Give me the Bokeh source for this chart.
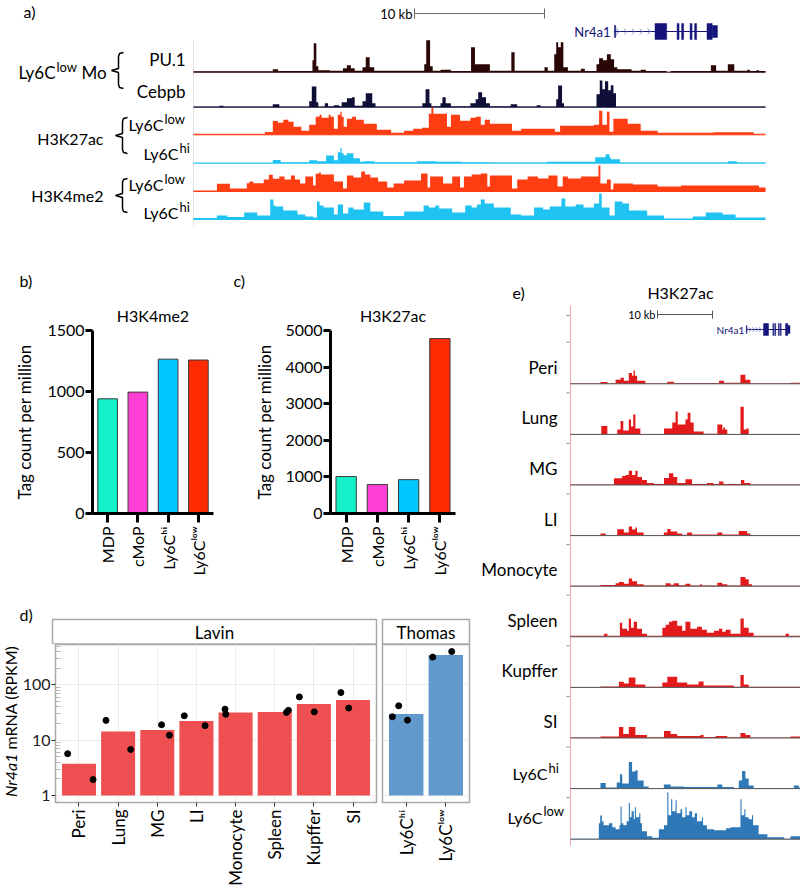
import math
from bokeh.plotting import figure
from bokeh.layouts import row, column
from bokeh.models import Range1d, FactorRange, FixedTicker, NumeralTickFormatter, ColumnDataSource
from bokeh.core.properties import value
from bokeh.embed import file_html
from bokeh.resources import INLINE

FONT = "Lato"

# ---------------- data : panels b, c ----------------
bc_cells = ["MDP", "cMoP", "Ly6Cʰⁱ", "Ly6Cˡᵒʷ"]
bc_colors = ["#14F0C8", "#FF3FD4", "#00C6FF", "#FF2A00"]
h3k4me2_tags = [940, 995, 1265, 1258]
h3k27ac_tags = [1010, 790, 925, 4780]

# ---------------- data : panel d ----------------
lavin_cells = ["Peri", "Lung", "MG", "LI", "Monocyte", "Spleen", "Kupffer", "SI"]
lavin_rpkm = [3.76, 14.4, 15.3, 22.2, 31.8, 32.3, 45.3, 53.5]
lavin_rep_cell = [0, 0, 1, 1, 2, 2, 3, 3, 4, 4, 5, 5, 6, 6, 7, 7]
lavin_rep_rpkm = [5.7, 1.94, 22.8, 6.8, 19.0, 12.3, 27.6, 18.3, 36.4, 29.4, 31.8, 34.6, 60.6, 32.5, 72.6, 38.0]
lavin_rep_jitter = [-0.29, 0.36, -0.31, 0.32, 0.11, 0.31, -0.31, 0.22, -0.27, -0.25, 0.30, 0.35, -0.37, 0.01, -0.31, -0.11]
thomas_cells = ["Ly6Cʰⁱ", "Ly6Cˡᵒʷ"]
thomas_rpkm = [29.6, 345]
thomas_rep_cell = [0, 0, 0, 1, 1]
thomas_rep_rpkm = [26.5, 41.8, 23.0, 317, 400]
thomas_rep_jitter = [-0.35, -0.19, 0.03, -0.33, 0.15]
facets = ["Lavin", "Thomas"]

# ---------------- data : panel a tracks (start kb, signal) ----------------
a_pu1 = [(0, 1.0), (6.1, 3), (6.5, 1.2), (9.15, 12), (9.25, 29), (9.45, 6), (9.6, 2), (10.5, 1.5), (11.5, 4), (11.8, 7),
         (12.1, 4), (12.4, 1.5), (13.0, 5), (13.25, 15), (13.55, 5), (13.9, 1.5), (17.75, 8), (17.9, 32), (18.2, 6),
         (18.4, 1.5), (19.0, 2.5), (19.8, 1.2), (21.35, 25), (21.65, 8), (22.8, 1.5), (24.45, 20), (24.7, 1.5), (27.0, 5),
         (27.25, 1.5), (27.75, 18), (27.9, 30), (28.05, 25), (28.25, 30), (28.45, 5), (28.8, 1.5), (29.8, 3.5), (30.1, 1.2),
         (31.0, 8), (31.2, 14), (31.5, 12), (31.8, 18), (32.1, 13), (32.35, 5), (32.6, 3), (33.7, 1.5), (34.4, 2.5),
         (34.8, 1.2), (36.4, 0), (36.7, 1.2), (39.8, 7), (40.2, 1.5), (41.1, 8), (41.6, 1.5), (42.6, 2.5), (42.8, 1.2),
         (43.3, 2), (43.5, 1.2)]
a_cebpb = [(0, 0.8), (2.0, 1.5), (2.3, 0.8), (6.1, 3), (6.6, 0.8), (8.9, 6), (9.1, 20.7), (9.45, 5), (9.6, 0.8), (10.1, 4),
           (10.35, 1), (10.8, 2), (11.2, 1), (11.4, 5), (11.8, 9), (12.2, 10), (12.4, 1.5), (13.0, 6), (13.25, 14),
           (13.75, 4), (14.0, 0.8), (17.6, 4), (17.85, 18), (18.15, 4), (18.3, 1), (19.0, 4), (19.15, 10), (19.4, 4),
           (19.8, 1), (21.3, 4), (21.7, 8), (21.9, 15), (22.2, 10), (22.5, 4), (22.8, 1), (24.4, 3), (24.9, 0.8), (26.4, 2),
           (26.7, 0.8), (27.9, 8), (28.05, 21.7), (28.35, 4), (28.5, 0.8), (31.0, 13), (31.25, 26.7), (31.45, 18),
           (31.65, 26), (31.9, 17), (32.1, 22), (32.3, 14), (32.5, 0.8)]
a_k27_low = [(0, 1), (5.5, 2.7), (6.1, 13.7), (6.5, 12), (6.9, 15), (7.3, 13), (7.7, 8), (8.3, 4), (8.9, 10), (9.4, 18),
             (9.7, 20), (9.85, 17), (10.4, 20), (10.55, 18), (10.8, 6), (11.1, 20), (11.3, 23), (11.4, 18), (11.55, 8),
             (11.8, 16), (12.2, 18), (12.5, 15), (13.1, 11), (14.1, 5), (15.2, 2), (16.2, 4), (16.9, 6), (17.6, 7),
             (18.1, 21), (18.3, 27), (18.45, 21), (19.5, 8), (19.8, 20), (20.5, 14), (21.3, 17), (21.7, 18), (22.1, 10),
             (22.4, 15), (22.8, 11), (24.5, 4), (25.2, 6), (27.8, 3), (28.2, 9), (30.8, 10), (31.2, 24), (31.45, 10),
             (31.8, 23), (32.0, 3), (32.3, 16), (33.4, 11), (34.4, 4), (35.7, 2), (40.0, 2.5), (43.1, 1)]
a_k27_hi = [(0, 0.5), (6.1, 3.3), (6.7, 1), (8.9, 3), (9.5, 2), (10.2, 7.7), (10.8, 3), (11.1, 11), (11.3, 15), (11.4, 10),
            (11.55, 8), (11.8, 10), (12.3, 5), (12.8, 1.5), (13.1, 2), (13.9, 1), (17.2, 2), (18.7, 1.5), (20.6, 1),
            (22.8, 0.8), (27.2, 1.5), (30.9, 6), (31.7, 9), (32.0, 6), (32.1, 4), (32.8, 0.6), (41.1, 2), (41.8, 0.6)]
a_k4_low = [(0, 1), (1.8, 7.7), (2.8, 3), (4.1, 8.3), (4.3, 10), (4.6, 8.3), (5.4, 12), (5.8, 16.7), (6.1, 12.7), (6.6, 15),
            (7.0, 12), (7.5, 16), (7.8, 12), (8.2, 8), (8.6, 15), (9.2, 6), (9.4, 17.7), (9.65, 19), (9.8, 17), (10.8, 10),
            (11.5, 3), (11.8, 16), (12.3, 14), (12.9, 20), (13.2, 17), (13.6, 14), (14.2, 10), (14.9, 4), (15.4, 8),
            (16.2, 11), (17.5, 18), (18.0, 4), (18.2, 15), (19.2, 8), (19.9, 15), (20.5, 4), (20.8, 15), (21.4, 17),
            (22.1, 18), (22.6, 5), (22.8, 16), (24.5, 3), (24.9, 12), (25.7, 15), (26.5, 13), (27.3, 16), (28.0, 5),
            (28.4, 15), (28.8, 13), (29.8, 15), (30.8, 15), (31.15, 26), (31.3, 8), (31.8, 12), (32.1, 2), (32.3, 8),
            (33.8, 7), (35.7, 5), (37.5, 6), (43.5, 4)]
a_k4_hi = [(0, 1.5), (1.8, 4), (2.6, 2.5), (3.9, 7), (4.9, 4), (5.9, 20), (6.15, 14), (6.3, 13), (6.9, 9), (8.0, 5), (8.6, 3),
           (9.2, 2), (9.5, 18), (9.7, 14), (10.0, 12), (10.8, 5), (11.1, 15), (11.5, 6), (11.9, 12), (12.3, 10), (13.1, 17),
           (13.6, 8), (14.6, 3.5), (16.2, 8), (17.7, 14), (18.1, 12), (18.6, 14), (18.9, 11), (19.9, 7), (20.9, 14),
           (21.4, 12), (21.8, 15), (22.1, 20), (22.4, 16), (23.1, 12), (24.4, 5), (25.2, 4), (26.2, 12), (26.9, 10),
           (27.4, 13), (28.3, 21), (28.6, 13), (29.4, 15), (30.0, 12), (30.8, 16), (31.2, 26), (31.4, 12), (32.0, 4),
           (32.4, 18), (33.0, 16), (33.5, 9), (34.9, 4), (36.2, 1), (38.4, 3), (39.4, 7), (40.7, 5), (41.7, 2)]

# gene model (kb, panel a coordinates)
nr4a1_exon_start = [32.38, 35.5, 37.2, 37.55, 38.2, 38.55, 39.5, 39.9]
nr4a1_exon_end = [32.48, 36.4, 37.35, 37.7, 38.35, 38.7, 39.9, 40.3]
nr4a1_exon_kind = ["utr", "cds", "cds", "cds", "cds", "cds", "cds", "utr"]
nr4a1_start, nr4a1_end = 32.38, 40.3

# ---------------- data : panel e tracks (start kb, signal) ----------------
e_cells = ["Peri", "Lung", "MG", "LI", "Monocyte", "Spleen", "Kupffer", "SI", "Ly6C|hi", "Ly6C|low"]
e_peri = [(0, 0.5), (5.45, 1.7), (6.7, 0.5), (8.2, 4), (9.1, 6), (9.7, 3), (10.6, 10.7), (11.2, 8), (11.45, 13.3), (11.7, 8),
          (12.1, 3), (13.6, 0.5), (17.6, 2), (18.8, 0.7), (27.0, 3), (27.9, 1), (30.9, 9), (31.8, 4), (32.7, 0.5), (40.0, 1)]
e_lung = [(0, 0.5), (5.6, 8.3), (6.7, 0.5), (8.5, 5), (9.1, 13.3), (9.6, 4), (10.6, 15), (11.0, 8), (11.4, 20), (11.8, 6),
          (12.7, 0.5), (17.0, 6), (18.5, 12), (19.1, 23), (19.5, 10), (20.9, 15), (21.3, 21.7), (21.8, 12), (22.4, 3),
          (24.2, 0.7), (26.7, 10), (27.6, 5), (27.8, 7), (28.1, 5), (28.5, 0.5), (30.9, 27.7), (31.5, 5), (32.0, 6), (32.4, 0.5)]
e_mg = [(0, 0.5), (7.9, 6.7), (9.4, 9), (10.0, 10), (10.6, 14.3), (11.2, 10), (11.8, 14.3), (12.2, 8), (13.0, 5), (13.9, 2),
        (15.15, 1), (17.0, 7), (17.9, 11.7), (18.7, 8), (19.4, 2), (20.9, 5.7), (22.1, 1), (24.8, 2), (26.0, 1), (27.0, 3.5),
        (27.8, 1), (31.0, 5), (31.6, 2), (32.7, 0.6)]
e_li = [(0, 0.5), (5.45, 2), (6.4, 0.5), (8.5, 6.3), (9.7, 3), (10.6, 9), (11.2, 6), (11.8, 8), (12.1, 3), (13.3, 0.7),
        (16.97, 3), (17.6, 6.7), (18.2, 4), (19.4, 2), (20.3, 0.8), (21.2, 3), (22.1, 1), (26.7, 3), (27.6, 1), (30.6, 4.7),
        (32.1, 2), (32.7, 0.7)]
e_mono = [(0, 0.5), (5.45, 1.2), (8.2, 3), (8.8, 4.3), (9.7, 2.5), (10.6, 7.7), (11.2, 5), (12.1, 2), (13.3, 0.7), (17.3, 3),
          (18.2, 1.5), (18.8, 3), (19.7, 1), (20.9, 2.5), (21.8, 0.7), (23.6, 2), (23.9, 0.7), (26.7, 3.5), (27.6, 2),
          (28.5, 0.6), (30.9, 9.3), (31.8, 7), (32.4, 2), (33.0, 0.5)]
e_spleen = [(0, 1), (6.1, 3), (6.7, 1), (8.97, 14), (9.4, 8), (10.3, 6), (10.6, 18.3), (11.0, 9), (11.5, 15), (12.1, 8),
            (13.0, 3), (13.9, 1), (16.7, 9), (17.3, 12), (17.9, 15), (18.5, 16), (19.4, 11), (20.3, 6), (20.9, 15), (21.8, 8),
            (23.0, 10), (23.9, 7), (24.8, 4), (26.1, 6), (27.0, 8), (27.6, 5), (28.2, 7), (29.1, 3), (30.9, 18.3), (31.5, 9),
            (32.4, 4), (33.3, 1), (39.1, 3), (39.7, 1)]
e_kupffer = [(0, 0.5), (5.45, 1), (8.8, 5.7), (9.7, 4), (10.6, 10), (11.8, 3), (13.6, 0.7), (16.7, 5), (17.6, 10.7), (19.4, 5),
             (21.2, 3), (23.3, 6), (24.2, 2), (29.7, 0.7), (30.9, 12.3), (31.5, 3), (32.4, 0.7)]
e_si = [(0, 0.5), (5.45, 1.5), (8.8, 11), (9.6, 4), (10.6, 11), (11.8, 3), (13.9, 0.8), (17.0, 7), (18.2, 4), (19.4, 2),
        (23.6, 3), (24.2, 1), (26.4, 2), (28.5, 0.7), (30.9, 5), (31.8, 3), (32.7, 0.5), (40.0, 1.5)]
e_ly6chi = [(0, 0.5), (5.45, 5.7), (6.4, 1), (8.4, 6), (9.0, 14.3), (9.4, 5), (10.6, 26.7), (11.2, 17), (11.8, 18.3), (12.2, 8),
            (13.3, 2), (14.2, 0.7), (16.97, 4), (18.2, 2), (20.6, 1.5), (26.7, 4), (27.6, 1.5), (29.7, 0.7), (30.6, 8),
            (31.2, 17.7), (31.8, 10), (32.4, 3), (33.3, 0.6), (40.6, 3), (41.5, 1)]
e_ly6clow = [(0, 0.5), (5.15, 16), (5.4, 23.7), (5.7, 18), (6.0, 14), (7.0, 16), (7.6, 12), (8.2, 10), (8.9, 14), (9.1, 32.7),
             (9.3, 16), (9.6, 14), (10.2, 18), (10.6, 36.3), (10.8, 22), (11.1, 28), (11.5, 20), (11.7, 32), (11.9, 22),
             (12.5, 26), (12.7, 16), (13.0, 8), (13.9, 3), (14.85, 1.5), (16.06, 10), (17.0, 14), (17.6, 47), (17.8, 24),
             (18.3, 40), (18.5, 28), (19.1, 39), (19.3, 26), (20.0, 30), (20.3, 22), (20.9, 32), (21.1, 24), (21.6, 28),
             (22.1, 22), (22.6, 26), (23.0, 18), (23.9, 22), (24.1, 14), (24.8, 10), (26.1, 9), (28.3, 11), (29.1, 12),
             (30.9, 40), (31.1, 24), (31.6, 30), (31.8, 22), (32.4, 20), (33.0, 24), (33.2, 14), (34.2, 5), (35.8, 2),
             (38.8, 0.5), (40.0, 3)]

# ---------------- helpers ----------------
def base_fig(width, height, xr, yr):
    p = figure(width=width, height=height, x_range=xr, y_range=yr, output_backend="svg",
               toolbar_location=None, x_axis_location=None, y_axis_location=None, min_border=0)
    p.outline_line_color = None
    p.grid.visible = False
    p.background_fill_color = "white"
    return p


def txt(p, x, y, s, size="16px", align="left", color="black", style="normal", angle=0.0, baseline="middle"):
    p.text(x=[x], y=[y], text=[s], text_font=value(FONT), text_font_size=size, text_align=align,
           text_baseline=baseline, text_color=color, text_font_style=style, angle=angle)


def sup_label(p, xj, y, base, sup, conv, size="16px", ssize="12px", dy=6):
    txt(p, conv(xj), y, base, size=size, align="right")
    txt(p, conv(xj + 1), y - dy, sup, size=ssize, align="left")


def steps(track, end):
    xs = [s for s, _ in track] + [end]
    hs = [v for _, v in track] + [track[-1][1]]
    return xs, hs


def draw_gene(p, kb_shift, y, half_cds, half_utr, text_gap_kb, text_size, chev_w, chev_h, color):
    s = nr4a1_start + kb_shift
    e = nr4a1_end + kb_shift
    p.line([s, e], [y, y], line_color=color, line_width=1)
    ch = [s + 0.35 + 0.6 * k for k in range(5)]
    xs = [[c - chev_w, c, c - chev_w] for c in ch]
    ys = [[y - chev_h, y, y + chev_h] for c in ch]
    p.multi_line(xs, ys, line_color="#8C8CD0", line_width=1)
    left = [v + kb_shift for v in nr4a1_exon_start]
    right = [v + kb_shift for v in nr4a1_exon_end]
    half = [half_cds if k == "cds" else half_utr for k in nr4a1_exon_kind]
    p.quad(left=left, right=right, top=[y - h for h in half], bottom=[y + h for h in half],
           fill_color=color, line_color=color, line_width=0.5)
    txt(p, s - text_gap_kb, y, "Nr4a1", size=text_size, align="right", color=color)


# =============== panel a ===============
A_X0, A_PXKB = 193.0, 13.0


def akb(px):
    return (px - A_X0) / A_PXKB


A_END = akb(765)
pa = base_fig(800, 238, Range1d(akb(0), akb(800)), Range1d(238, 0))

a_tracks = [(a_pu1, 71.7, "#2A0606"), (a_cebpb, 106.7, "#0E0E36"), (a_k27_low, 134.3, "#FF3D12"),
            (a_k27_hi, 162.7, "#1EC3F2"), (a_k4_low, 191.0, "#FF3D12"), (a_k4_hi, 219.0, "#1EC3F2")]
pa.line([0, 0], [40, 226], line_color="#E4E4E4", line_width=1)
for trk, base, col in a_tracks:
    xs, hs = steps(trk, A_END)
    pa.varea_step(x=xs, y1=[base] * len(xs), y2=[base - h for h in hs], step_mode="after", fill_color=col)
    pa.line([0, A_END], [base, base], line_color=col, line_width=1)

sb0 = akb(414)
pa.line([sb0, sb0 + 10], [13, 13], line_color="#666666", line_width=1)
pa.multi_line([[sb0, sb0], [sb0 + 10, sb0 + 10]], [[8, 18], [8, 18]], line_color="#666666", line_width=1)
txt(pa, akb(412), 13, "10 kb", size="13px", align="right")

draw_gene(pa, 0.0, 31, 8, 6, 4 / A_PXKB, "13px", 0.2, 3, "#14147A")

txt(pa, akb(23), 11, "a)", size="16px")
sup_label(pa, 55, 72, "Ly6C", "low", akb, size="17px", ssize="13px")
txt(pa, akb(81), 72, "Mo", size="17px")
txt(pa, akb(185), 59, "PU.1", align="right", size="17px")
txt(pa, akb(185), 91, "Cebpb", align="right", size="17px")
txt(pa, akb(103), 138, "H3K27ac", align="right")
sup_label(pa, 163, 124, "Ly6C", "low", akb, ssize="13px")
sup_label(pa, 178, 153, "Ly6C", "hi", akb, ssize="13px")
txt(pa, akb(103), 195, "H3K4me2", align="right")
sup_label(pa, 163, 184, "Ly6C", "low", akb, ssize="13px")
sup_label(pa, 178, 212, "Ly6C", "hi", akb, ssize="13px")


def brace(p, x, top, bot, mid, tip):
    px = [x + 5, x + 1, x, x, tip, x, x, x + 1, x + 5]
    py = [top, top + 1, top + 4, mid - 2, mid, mid + 2, bot - 4, bot - 1, bot]
    p.line([akb(v) for v in px], py, line_color="black", line_width=1.5)


brace(pa, 118, 52, 88, 70, 111)
brace(pa, 122, 117, 153, 135, 115)
brace(pa, 122, 178, 212, 195, 115)

# =============== header for b, c ===============
LEFT_W = 480
bc_head = base_fig(LEFT_W, 52, Range1d(0, LEFT_W), Range1d(290, 238))
txt(bc_head, 19, 280, "b)")
txt(bc_head, 233, 280, "c)")


# =============== panels b, c ===============
def bar_panel(title, vals, ymax, ticks, width, left, right, label_standoff):
    p = figure(width=width, height=310, x_range=FactorRange(*bc_cells, range_padding=0),
               y_range=Range1d(0, ymax), title=title, min_border_left=left, min_border_right=right,
               min_border_top=40, min_border_bottom=87, output_backend="svg", toolbar_location=None)
    p.outline_line_color = None
    p.grid.visible = False
    src = ColumnDataSource(dict(cell=bc_cells, val=vals, color=bc_colors))
    p.vbar(x="cell", top="val", width=0.65, fill_color="color", line_color="#3A3A3A", line_width=1, source=src)
    p.title.align = "center"
    p.title.text_font = FONT
    p.title.text_font_size = "16px"
    p.title.text_font_style = "normal"
    p.title.text_color = "black"
    p.title.standoff = 11
    for ax in (p.xaxis[0], p.yaxis[0]):
        ax.axis_line_width = 3
        ax.axis_line_color = "black"
        ax.major_tick_line_width = 3
        ax.major_tick_line_color = "black"
        ax.major_tick_in = 0
        ax.minor_tick_line_color = None
        ax.major_label_text_font = FONT
        ax.major_label_text_font_size = "16px"
        ax.major_label_text_color = "black"
    p.xaxis.major_tick_out = 9
    p.xaxis.major_label_orientation = math.pi / 2
    p.xaxis.major_label_standoff = 4
    p.yaxis.major_tick_out = 7
    p.yaxis.major_label_standoff = 1
    p.yaxis.ticker = FixedTicker(ticks=ticks)
    p.yaxis.axis_label = "Tag count per million"
    p.yaxis.axis_label_text_font = FONT
    p.yaxis.axis_label_text_font_size = "17px"
    p.yaxis.axis_label_text_font_style = "normal"
    p.yaxis.axis_label_text_color = "black"
    p.yaxis.axis_label_standoff = label_standoff
    return p


pb = bar_panel("H3K4me2", h3k4me2_tags, 1500, [0, 500, 1000, 1500], 230, 92, 17, 9)
pc = bar_panel("H3K27ac", h3k27ac_tags, 5000, [0, 1000, 2000, 3000, 4000, 5000], LEFT_W - 230, 100,
               LEFT_W - 455, 7)

# =============== header for d (strips) ===============
DL_W = 19
d_head = base_fig(LEFT_W - DL_W, 44, Range1d(DL_W, LEFT_W), Range1d(644, 600))
strip_left = [52, 382]
strip_right = [376, 469]
d_head.quad(left=strip_left, right=strip_right, top=[619, 619], bottom=[643.5, 643.5],
            fill_color="white", line_color="#A8A8A8", line_width=1.5)
for f, l, r in zip(facets, strip_left, strip_right):
    txt(d_head, (l + r) / 2, 631.5, f, size="17px", align="center")
txt(d_head, DL_W, 614, "d)")

# rotated y label for d (italic gene name)
dlab = base_fig(DL_W, 288, Range1d(0, DL_W), Range1d(888, 600))
txt(dlab, 10, 753, "Nr4a1", size="16px", align="right", style="italic", angle=math.pi / 2)
txt(dlab, 10, 749, "mRNA (RPKM)", size="16px", align="left", angle=math.pi / 2)


def facet_panel(width, left, right, cells, vals, rep_cell, rep_val, rep_jit, color, show_axis):
    n = len(cells)
    pos = list(range(1, n + 1))
    p = figure(width=width, height=244, x_range=Range1d(0.4, n + 0.6), y_range=Range1d(0.748, 536),
               y_axis_type="log", y_axis_location=("left" if show_axis else None),
               min_border_left=left, min_border_right=right, min_border_top=0,
               min_border_bottom=85, output_backend="svg", toolbar_location=None)
    p.outline_line_color = "#A8A8A8"
    p.outline_line_width = 1.5
    xt = FixedTicker(ticks=pos)
    yt = FixedTicker(ticks=[1, 10, 100])
    p.xaxis.ticker = xt
    p.xgrid.ticker = xt
    p.ygrid.ticker = yt
    p.grid.grid_line_color = "#EBEBEB"
    p.grid.grid_line_width = 1
    p.vbar(x=pos, top=vals, bottom=1, width=0.87, fill_color=color, line_color=None)
    px = [pos[c] + j for c, j in zip(rep_cell, rep_jit)]
    p.scatter(x=px, y=rep_val, size=6, fill_color="black", line_color="black")
    xa = p.xaxis[0]
    xa.major_label_overrides = {t: c for t, c in zip(pos, cells)}
    xa.major_label_orientation = math.pi / 2
    xa.major_label_text_font = FONT
    xa.major_label_text_font_size = "17px"
    xa.major_label_text_color = "black"
    xa.major_label_standoff = 3
    xa.major_tick_out = 4
    xa.major_tick_in = 0
    xa.major_tick_line_color = "#333333"
    xa.axis_line_color = None
    xa.minor_tick_line_color = None
    if show_axis:
        ya = p.yaxis[0]
        ya.ticker = FixedTicker(ticks=[1, 10, 100],
                                minor_ticks=[2, 3, 4, 5, 6, 7, 8, 9, 20, 30, 40, 50, 60, 70, 80, 90,
                                             200, 300, 400, 500])
        ya.axis_line_color = None
        ya.minor_tick_in = 5
        ya.minor_tick_out = 0
        ya.minor_tick_line_color = "#B8B8B8"
        ya.formatter = NumeralTickFormatter(format="0")
        ya.major_label_text_font = FONT
        ya.major_label_text_font_size = "16px"
        ya.major_label_text_color = "#222222"
        ya.major_label_standoff = 1
        ya.major_tick_out = 4
        ya.major_tick_in = 0
        ya.major_tick_line_color = "#333333"
    return p


pd1 = facet_panel(379 - DL_W, 52 - DL_W, 3, lavin_cells, lavin_rpkm, lavin_rep_cell, lavin_rep_rpkm,
                  lavin_rep_jitter, "#EE5052", True)
pd2 = facet_panel(LEFT_W - 379, 3, LEFT_W - 469, thomas_cells, thomas_rpkm, thomas_rep_cell, thomas_rep_rpkm,
                  thomas_rep_jitter, "#6199CC", False)

# =============== panel e ===============
E_X0, E_PXKB = 570.0, 5.5


def ekb(px):
    return (px - E_X0) / E_PXKB


E_END = ekb(800)
pe = base_fig(800 - LEFT_W, 650, Range1d(ekb(LEFT_W), ekb(800)), Range1d(888, 238))
e_tracks = [e_peri, e_lung, e_mg, e_li, e_mono, e_spleen, e_kupffer, e_si, e_ly6chi, e_ly6clow]
e_colors = ["#E31A1C"] * 8 + ["#2E78B8", "#2E78B8"]
pe.line([0, 0], [305, 845], line_color="#F2A6A6", line_width=1)
for i, (trk, col, name) in enumerate(zip(e_tracks, e_colors, e_cells)):
    base = 383.3 + 50.6 * i
    xs, hs = steps(trk, E_END)
    pe.varea_step(x=xs, y1=[base] * len(xs), y2=[base - h for h in hs], step_mode="after", fill_color=col)
    pe.line([0, E_END], [base, base], line_color="#555555", line_width=1)
    pe.line([ekb(566), ekb(569)], [base - 41.6, base - 41.6], line_color="#888888", line_width=1)
    if "|" in name:
        b, s = name.split("|")
        if s == "hi":
            sup_label(pe, 547, base - 15, b, s, ekb, ssize="13px")
        else:
            sup_label(pe, 542, base - 22, b, s, ekb, ssize="13px")
    else:
        txt(pe, ekb(557), base - 16.5, name, align="right", size="17px")
pe.line([ekb(566), ekb(569)], [315, 315], line_color="#888888", line_width=1)

txt(pe, ekb(512), 292, "e)")
txt(pe, ekb(680), 292, "H3K27ac", align="center")
sbe = ekb(657)
pe.line([sbe, sbe + 10], [314, 314], line_color="#555555", line_width=1)
pe.multi_line([[sbe, sbe], [sbe + 10, sbe + 10]], [[310, 318], [310, 318]], line_color="#555555", line_width=1)
txt(pe, ekb(655), 314, "10 kb", size="11px", align="right")
draw_gene(pe, -0.4, 329, 6, 4, 2 / E_PXKB, "10px", 0.45, 2, "#14147A")

# =============== layout ===============
d_block = row(dlab, column(d_head, row(pd1, pd2)))
left_col = column(bc_head, row(pb, pc), d_block)
layout = column(pa, row(left_col, pe))

open("out.html", "w").write(file_html(layout, INLINE))
